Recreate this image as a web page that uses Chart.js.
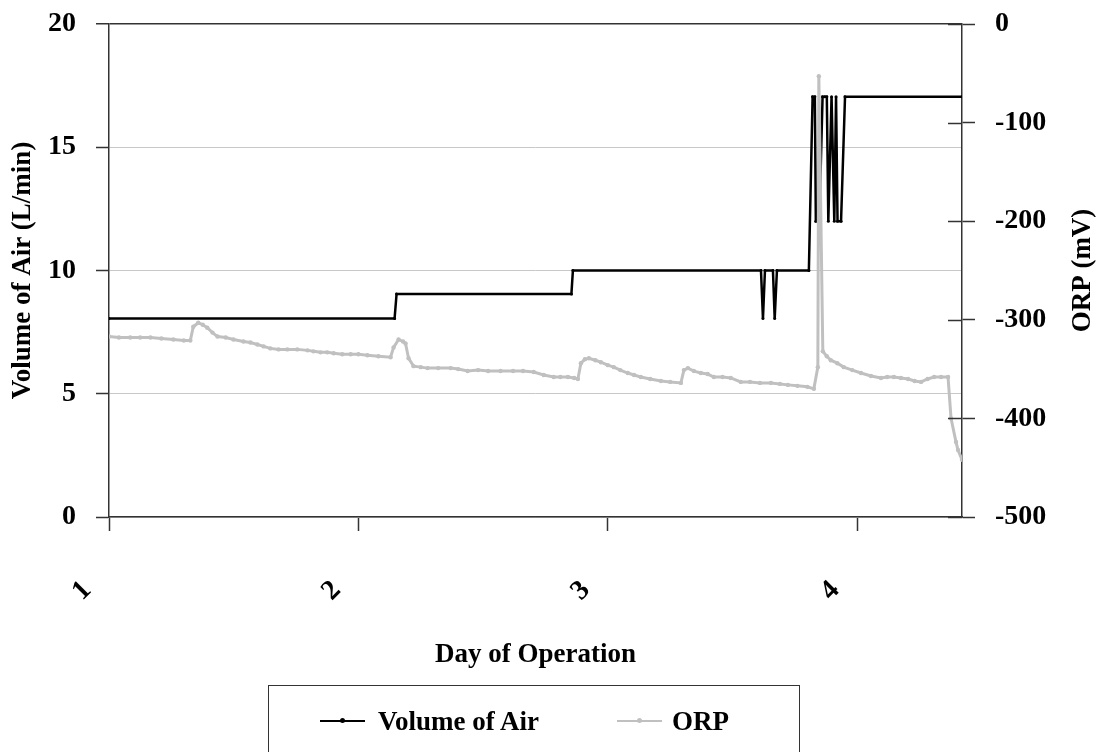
<!DOCTYPE html>
<html>
<head>
<meta charset="utf-8">
<script src="https://cdn.jsdelivr.net/npm/chart.js@4.4.1/dist/chart.umd.min.js"></script>
<style>
  body { margin: 0; background: #fff; }
  #wrap { position: relative; width: 1099px; height: 752px; overflow: hidden; }
  .legend { position: absolute; left: 268px; top: 685px; width: 532px; height: 120px; border: 1px solid #333; box-sizing: border-box; }
  .legend .item { position: absolute; top: 18px; font: bold 27px 'Liberation Serif', 'Times New Roman', serif; color: #000; line-height: 34px; white-space: nowrap; }
  .legend .swatch { position: absolute; top: 16px; width: 45px; height: 2px; }
  .legend .dot { position: absolute; left: 20px; top: -2px; width: 5px; height: 5px; border-radius: 50%; }
</style>
</head>
<body>
<div id="wrap">
  <canvas id="grafico" width="1099" height="752"></canvas>
  <div class="legend">
    <div class="item" style="left:51px;"><span class="swatch" style="left:0;background:#000;"><span class="dot" style="background:#000;"></span></span><span style="margin-left:58px;">Volume of Air</span></div>
    <div class="item" style="left:348px;"><span class="swatch" style="left:0;background:#c0c0c0;"><span class="dot" style="background:#c0c0c0;"></span></span><span style="margin-left:55px;">ORP</span></div>
  </div>
</div>
<script>
// Datos del gráfico
const tituloX = 'Day of Operation';
const tituloIzq = 'Volume of Air (L/min)';
const tituloDer = 'ORP (mV)';

// Volumen de aire (L/min)
const diasAire = [1.000, 2.145, 2.153, 2.854, 2.860, 3.614, 3.622, 3.630, 3.662, 3.669, 3.678, 3.806,
    3.821, 3.830, 3.834, 3.848, 3.861, 3.870, 3.878, 3.884, 3.897, 3.908, 3.915, 3.921, 3.935, 3.951, 4.420];
const valoresAire = [8.05, 8.05, 9.05, 9.05, 10.0, 10.0, 8.05, 10.0, 10.0, 8.05, 10.0, 10.0,
    17.05, 17.05, 12.0, 12.0, 17.05, 17.05, 17.05, 12.0, 17.05, 12.0, 17.05, 12.0, 12.0, 17.05, 17.05];

// ORP (mV)
const diasORP = [1.000, 1.040, 1.085, 1.125, 1.166, 1.210, 1.258, 1.300, 1.326, 1.338, 1.358, 1.376,
    1.394, 1.415, 1.435, 1.468, 1.499, 1.539, 1.567, 1.595, 1.620, 1.647, 1.680, 1.715,
    1.755, 1.796, 1.820, 1.848, 1.875, 1.901, 1.935, 1.969, 2.000, 2.036, 2.080, 2.129,
    2.141, 2.161, 2.179, 2.189, 2.201, 2.221, 2.250, 2.277, 2.320, 2.370, 2.400, 2.438,
    2.480, 2.520, 2.570, 2.620, 2.660, 2.703, 2.743, 2.783, 2.810, 2.840, 2.865, 2.880,
    2.892, 2.908, 2.924, 2.950, 2.972, 3.000, 3.024, 3.050, 3.080, 3.105, 3.132, 3.170,
    3.213, 3.250, 3.293, 3.305, 3.321, 3.345, 3.373, 3.400, 3.425, 3.460, 3.493, 3.533,
    3.570, 3.610, 3.654, 3.690, 3.722, 3.760, 3.800, 3.826, 3.842, 3.846, 3.862, 3.878,
    3.894, 3.920, 3.946, 3.980, 4.015, 4.055, 4.095, 4.120, 4.147, 4.175, 4.204, 4.230,
    4.256, 4.282, 4.308, 4.336, 4.364, 4.376, 4.396, 4.404, 4.420];
const valoresORP = [-317, -318, -318, -318, -318, -319, -320, -321, -321, -307, -303, -305,
    -308, -313, -317, -318, -320, -322, -323, -325, -327, -329, -330, -330,
    -330, -331, -332, -333, -333, -334, -335, -335, -335, -336, -337, -338,
    -328, -320, -322, -324, -339, -347, -348, -349, -349, -349, -350, -352,
    -351, -352, -352, -352, -352, -353, -356, -358, -358, -358, -359, -360,
    -344, -340, -339, -341, -343, -346, -348, -351, -354, -356, -358, -360,
    -362, -363, -364, -351, -349, -352, -354, -355, -358, -358, -359, -363,
    -363, -364, -364, -365, -366, -367, -368, -370, -348, -53, -332, -337,
    -341, -344, -348, -351, -354, -357, -359, -358, -358, -359, -360, -362,
    -363, -360, -358, -358, -358, -400, -424, -432, -442];

const fuente = "'Liberation Serif', 'Times New Roman', serif";
const colorEje = '#333';

// Título derecho (se lee de abajo hacia arriba) y marcas que cruzan el eje derecho
const extras = {
    id: 'extras',
    afterDraw(chart) {
        const ctx = chart.ctx;
        const area = chart.chartArea;
        const escala = chart.scales.yDer;
        ctx.save();
        ctx.strokeStyle = colorEje;
        ctx.lineWidth = 1.5;
        escala.ticks.forEach(t => {
            const y = Math.round(escala.getPixelForValue(t.value)) + 0.5;
            ctx.beginPath();
            ctx.moveTo(area.right - 14, y);
            ctx.lineTo(area.right, y);
            ctx.stroke();
        });
        ctx.translate(1083, (area.top + area.bottom) / 2);
        ctx.rotate(-Math.PI / 2);
        ctx.font = 'bold 27px ' + fuente;
        ctx.fillStyle = '#000';
        ctx.textAlign = 'center';
        ctx.textBaseline = 'middle';
        ctx.fillText(tituloDer, 0, 0);
        ctx.restore();
    }
};

// Sin relleno extra arriba/abajo por las etiquetas
function ajustarVertical(ancho) {
    return s => {
        s.width = ancho;
        s.paddingTop = 0;
        s.paddingBottom = 0;
    };
}

new Chart(document.getElementById('grafico'), {
    type: 'line',
    data: {
        datasets: [{
            label: 'ORP',
            data: diasORP.map((d, i) => ({x: d, y: valoresORP[i]})),
            yAxisID: 'yDer',
            borderColor: '#c0c0c0',
            backgroundColor: '#c0c0c0',
            borderWidth: 3,
            pointRadius: 2.2,
            pointBorderWidth: 0,
            tension: 0,
            order: 0
        }, {
            label: 'Volume of Air',
            data: diasAire.map((d, i) => ({x: d, y: valoresAire[i]})),
            yAxisID: 'yIzq',
            borderColor: '#000',
            backgroundColor: '#000',
            borderWidth: 2.5,
            pointRadius: 1.5,
            pointBorderWidth: 0,
            tension: 0,
            order: 1
        }]
    },
    options: {
        responsive: false,
        animation: false,
        layout: {
            padding: {top: 24, bottom: 80, left: 0, right: 0}
        },
        plugins: {
            legend: {display: false},
            tooltip: {enabled: false}
        },
        scales: {
            x: {
                type: 'linear',
                min: 1,
                max: 4.42,
                afterFit: s => { s.height = 155; s.paddingLeft = 0; s.paddingRight = 0; },
                border: {display: true, color: colorEje, width: 1.5},
                grid: {drawOnChartArea: false, drawTicks: true, tickLength: 14, tickColor: colorEje, tickWidth: 1.5},
                ticks: {
                    stepSize: 1,
                    includeBounds: false,
                    minRotation: 45,
                    maxRotation: 45,
                    labelOffset: -22,
                    padding: 43,
                    color: '#000',
                    font: {family: fuente, size: 28, weight: 'bold'},
                    callback: v => String(v)
                },
                title: {
                    display: true,
                    text: tituloX,
                    color: '#000',
                    font: {family: fuente, size: 27, weight: 'bold'},
                    padding: {top: 0, bottom: 1}
                }
            },
            yIzq: {
                position: 'left',
                min: 0,
                max: 20,
                afterFit: ajustarVertical(109),
                border: {display: true, color: colorEje, width: 1.5},
                grid: {
                    color: ctx => ctx.tick && ctx.tick.value === 20 ? colorEje : '#c8c8c8',
                    lineWidth: ctx => ctx.tick && ctx.tick.value === 20 ? 1.5 : 1,
                    tickLength: 13,
                    tickColor: colorEje,
                    tickWidth: 1.5
                },
                ticks: {
                    stepSize: 5,
                    padding: 20,
                    color: '#000',
                    font: {family: fuente, size: 28, weight: 'bold'}
                },
                title: {
                    display: true,
                    text: tituloIzq,
                    color: '#000',
                    font: {family: fuente, size: 27, weight: 'bold'},
                    padding: {top: 7, bottom: 0}
                }
            },
            yDer: {
                position: 'right',
                min: -500,
                max: 0,
                afterFit: ajustarVertical(137),
                border: {display: true, color: colorEje, width: 1.5},
                grid: {drawOnChartArea: false, tickLength: 13, tickColor: colorEje, tickWidth: 1.5},
                ticks: {
                    stepSize: 100,
                    padding: 20,
                    color: '#000',
                    font: {family: fuente, size: 28, weight: 'bold'}
                }
            }
        }
    },
    plugins: [extras]
});
</script>
</body>
</html>
